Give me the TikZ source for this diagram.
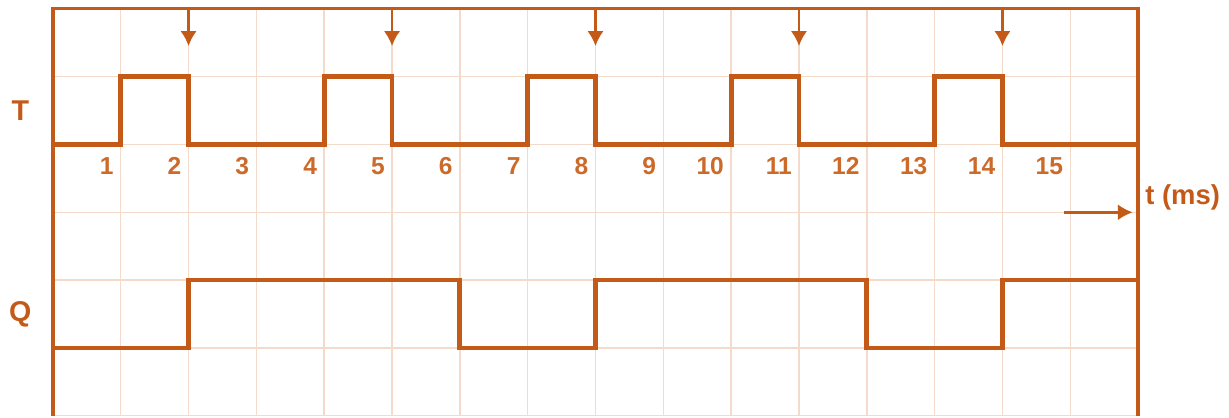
\documentclass[tikz,border=0pt]{standalone}
\usepackage{fontspec}
\setmainfont{Liberation Sans}
\usetikzlibrary{arrows.meta}
\definecolor{cam}{HTML}{C45A17}
\definecolor{so}{HTML}{CC6A2A}
\definecolor{luoi}{HTML}{F4DACA}
\begin{document}
\begin{tikzpicture}[>={Latex[length=2.2mm,width=2.4mm]}, color=cam, font=\bfseries]
    \useasboundingbox (-0.78,-0.02) rectangle (17.34,6.13);

    % Vẽ lưới ô vuông
    \draw[luoi, line width=0.6pt] (0,0) grid (16,6);

    % Vẽ khung
    \draw[line width=1.4pt] (0,0) -- (0,6) -- (16,6) -- (16,0);

    % Tín hiệu xung nhịp T
    \draw[line width=2pt] (0,4)
        \foreach \a in {1,4,7,10,13} { -- (\a,4) -- (\a,5) -- (\a+1,5) -- (\a+1,4) }
        -- (16,4);

    % Mũi tên ở sườn xuống
    \foreach \a in {2,5,8,11,14}
        \draw[->, line width=1.1pt] (\a,6) -- (\a,5.45);

    % Các mốc thời gian
    \foreach \n in {1,...,15}
        \node[so, anchor=base east, inner sep=0pt, font=\bfseries\fontsize{10.3}{11}\selectfont] (m\n) at (\n-0.1, 3.55) {\n};

    % Trục thời gian
    \coordinate (tdau) at (14.9,3);
    \coordinate (tcuoi) at (15.92,3);
    \draw[->, line width=1.1pt] (tdau) -- (tcuoi);
    \node[anchor=west, inner sep=0pt, font=\bfseries\fontsize{11.5}{12}\selectfont] (tms) at (16.1,3.22) {t (ms)};

    % Tín hiệu đầu ra Q
    \draw[line width=2pt] (0,1) -- (2,1) -- (2,2) -- (6,2) -- (6,1) -- (8,1) -- (8,2)
        -- (12,2) -- (12,1) -- (14,1) -- (14,2) -- (16,2);

    % Nhãn tín hiệu
    \node[font=\bfseries\fontsize{12}{12}\selectfont] (T) at (-0.48, 4.5) {T};
    \node[font=\bfseries\fontsize{12}{12}\selectfont] (Q) at (-0.48, 1.5) {Q};
\end{tikzpicture}
\end{document}
